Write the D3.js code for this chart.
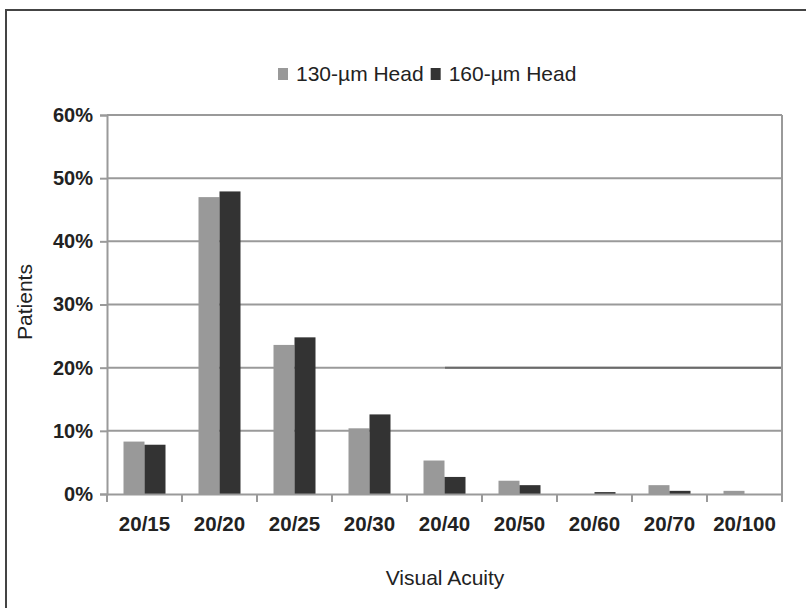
<!DOCTYPE html>
<html><head><meta charset="utf-8">
<script src="https://cdn.jsdelivr.net/npm/d3@7"></script>
<style>html,body{margin:0;padding:0;background:#fff;}svg{display:block;}</style>
</head><body>
<svg id="chart" width="806" height="608"></svg>
<script>
const categories = ["20/15","20/20","20/25","20/30","20/40","20/50","20/60","20/70","20/100"];
const seriesNames = ["130-\u00b5m Head","160-\u00b5m Head"];
const head130 = [8.3, 47.0, 23.6, 10.4, 5.3, 2.1, 0.0, 1.4, 0.5];
const head160 = [7.8, 47.9, 24.8, 12.6, 2.7, 1.4, 0.3, 0.5, 0.0];
const yTicks = [0, 10, 20, 30, 40, 50, 60];
const colors = ["#999999", "#333333"];

const svg = d3.select("#chart");
const m = {left: 107, right: 782, top: 115, bottom: 494};
const font = "'Liberation Sans', Arial, sans-serif";

// outer frame
svg.append("path").attr("d", "M6,608 L6,10 L806,10")
  .attr("fill", "none").attr("stroke", "#444").attr("stroke-width", 2);

const x = d3.scaleBand().domain(categories).range([m.left, m.right]).padding(0);
const y = d3.scaleLinear().domain([0, 60]).range([m.bottom, m.top]);
const barW = 21;

// gridlines
svg.append("g").selectAll("line").data(yTicks.filter(t => t > 0)).join("line")
  .attr("x1", m.left).attr("x2", m.right)
  .attr("y1", d => y(d)).attr("y2", d => y(d))
  .attr("stroke", "#9a9a9a").attr("stroke-width", 2);
// darker segment of the 20% gridline, as in the scan
svg.append("line").attr("x1", 445).attr("x2", m.right)
  .attr("y1", y(20)).attr("y2", y(20)).attr("stroke", "#6a6a6a").attr("stroke-width", 2);

// right border of plot
svg.append("line").attr("x1", m.right).attr("x2", m.right)
  .attr("y1", m.top).attr("y2", m.bottom).attr("stroke", "#9a9a9a").attr("stroke-width", 2);

// bars
const data = categories.map((c, i) => ({c, v: [head130[i], head160[i]]}));
const g = svg.append("g");
data.forEach(d => {
  d.v.forEach((v, k) => {
    const cx = x(d.c) + x.bandwidth() / 2;
    g.append("rect")
      .attr("x", cx - barW + k * barW).attr("width", barW)
      .attr("y", y(v)).attr("height", y(0) - y(v))
      .attr("fill", colors[k]);
  });
});

// y axis
const yAxis = d3.axisLeft(y).tickValues(yTicks).tickFormat(d => d + "%").tickSize(7).tickPadding(7);
const ya = svg.append("g").attr("transform", `translate(${m.left},0)`).call(yAxis);
ya.select(".domain").attr("stroke", "#9a9a9a").attr("stroke-width", 2);
ya.selectAll(".tick line").attr("stroke", "#9a9a9a").attr("stroke-width", 2);
ya.selectAll("text").attr("font-family", font).attr("font-size", 20).attr("font-weight", "bold").attr("fill", "#222");

// x axis
const xAxis = d3.axisBottom(x).tickSize(0).tickPadding(22);
const xa = svg.append("g").attr("transform", `translate(0,${m.bottom})`).call(xAxis);
xa.select(".domain").attr("stroke", "#9a9a9a").attr("stroke-width", 2);
xa.selectAll("text").attr("font-family", font).attr("font-size", 20.5).attr("font-weight", "bold").attr("fill", "#222");
// category separator ticks
svg.append("g").selectAll("line").data(categories.concat(["end"])).join("line")
  .attr("x1", (d, i) => m.left + i * x.bandwidth()).attr("x2", (d, i) => m.left + i * x.bandwidth())
  .attr("y1", m.bottom).attr("y2", m.bottom + 8)
  .attr("stroke", "#9a9a9a").attr("stroke-width", 2);

// axis titles
svg.append("text").attr("x", 445).attr("y", 585).attr("text-anchor", "middle")
  .attr("font-family", font).attr("font-size", 21).attr("fill", "#222").text("Visual Acuity");
svg.append("text").attr("transform", "translate(32,302) rotate(-90)").attr("text-anchor", "middle")
  .attr("font-family", font).attr("font-size", 21).attr("fill", "#222").text("Patients");

// legend
const leg = svg.append("g");
let lx = 278;
seriesNames.forEach((s, k) => {
  leg.append("rect").attr("x", lx).attr("y", 68).attr("width", 10).attr("height", 12).attr("fill", colors[k]);
  const t = leg.append("text").attr("x", lx + 18).attr("y", 81)
    .attr("font-family", font).attr("font-size", 21).attr("fill", "#222").text(s);
  lx += 18 + t.node().getComputedTextLength() + 7;
});
</script>
</body></html>
